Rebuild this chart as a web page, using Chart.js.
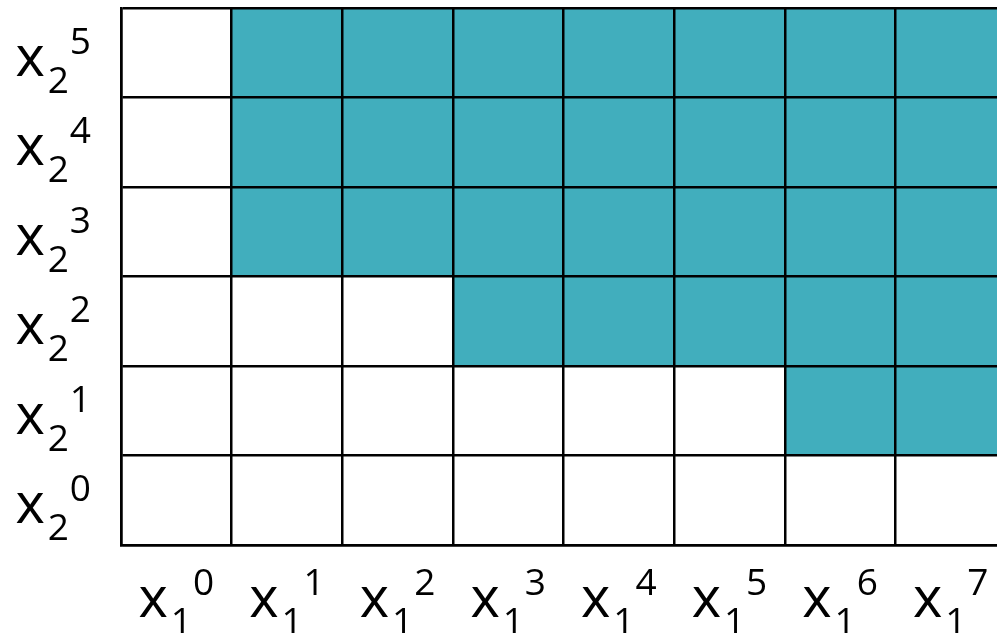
<!DOCTYPE html>
<html>
<head>
<meta charset="utf-8">
<script src="https://cdn.jsdelivr.net/npm/chart.js@4"></script>
<style>
  html, body { margin: 0; padding: 0; background: #fff; overflow: hidden; }
  #wrap { position: absolute; left: 0; top: 0; width: 1010px; height: 633px; }
</style>
</head>
<body>
<div id="wrap"><canvas id="grid"></canvas></div>
<script>
// columns: powers of x1, rows: powers of x2
var xSub = '1';
var xPowers = ['0', '1', '2', '3', '4', '5', '6', '7'];
var ySub = '2';
var yPowers = ['0', '1', '2', '3', '4', '5'];

// 1 = shaded cell, one array per row (x2^0 .. x2^5), left to right
var row0 = [0, 0, 0, 0, 0, 0, 0, 0];
var row1 = [0, 0, 0, 0, 0, 0, 1, 1];
var row2 = [0, 0, 0, 1, 1, 1, 1, 1];
var row3 = [0, 1, 1, 1, 1, 1, 1, 1];
var row4 = [0, 1, 1, 1, 1, 1, 1, 1];
var row5 = [0, 1, 1, 1, 1, 1, 1, 1];
var rows = [row0, row1, row2, row3, row4, row5];

var teal = '#41aebd';
var bigFont = '56px "Open Sans"';
var smallFont = '37px "Open Sans"';

function drawPower(ctx, sub, sup, ax, base, align) {
    ctx.font = bigFont;
    let wx = ctx.measureText('x').width;
    ctx.font = smallFont;
    let ws = ctx.measureText(sub).width;
    let wp = ctx.measureText(sup).width;
    let total = wx + 3 + ws + 1 + wp;
    let left = align === 'center' ? ax - total / 2 : ax - total;

    ctx.textAlign = 'left';
    ctx.textBaseline = 'alphabetic';
    ctx.font = bigFont;
    ctx.fillText('x', left, base);
    ctx.font = smallFont;
    ctx.fillText(sub, left + wx + 3, base + 17);
    ctx.fillText(sup, left + wx + 3 + ws + 1, base - 22);
};

var powerLabels = {
    id: 'powerLabels',
    afterDraw(chart) {
        const ctx = chart.ctx;
        const area = chart.chartArea;
        const xs = chart.scales.x, ys = chart.scales.y;
        ctx.save();
        ctx.fillStyle = '#000';
        for (let i = 0; i < xPowers.length; i++) {
            drawPower(ctx, xSub, xPowers[i], xs.getPixelForValue(i), area.bottom + 72, 'center');
        }
        for (let i = 0; i < yPowers.length; i++) {
            drawPower(ctx, ySub, yPowers[i], area.left - 30, ys.getPixelForValue(i + 0.5) + 23, 'right');
        }
        ctx.restore();
    }
};

var datasets = [];
for (let r = 0; r < rows.length; r++) {
    datasets.push({
        label: 'x2^' + yPowers[r],
        data: rows[r].map(function (v) { return v ? [r, r + 1] : null; }),
        backgroundColor: teal,
        borderWidth: 0,
        barPercentage: 1,
        categoryPercentage: 1,
        grouped: false
    });
}

new Chart(document.getElementById('grid'), {
    type: 'bar',
    data: {
        labels: xPowers,
        datasets: datasets
    },
    options: {
        responsive: true,
        maintainAspectRatio: false,
        animation: false,
        layout: {
            padding: { left: 121, top: 8, right: 4, bottom: 88 }
        },
        scales: {
            x: {
                offset: true,
                grid: { z: 1, offset: true, color: '#000', lineWidth: 2.5, drawTicks: false },
                border: { z: 1, color: '#000', width: 2.5 },
                ticks: { display: false }
            },
            y: {
                min: 0,
                max: 6,
                ticks: { display: false, stepSize: 1 },
                grid: { z: 1, color: '#000', lineWidth: 2.5, drawTicks: false },
                border: { z: 1, color: '#000', width: 2.5 }
            }
        },
        plugins: {
            legend: { display: false },
            tooltip: { enabled: false }
        }
    },
    plugins: [powerLabels]
});
</script>
</body>
</html>
